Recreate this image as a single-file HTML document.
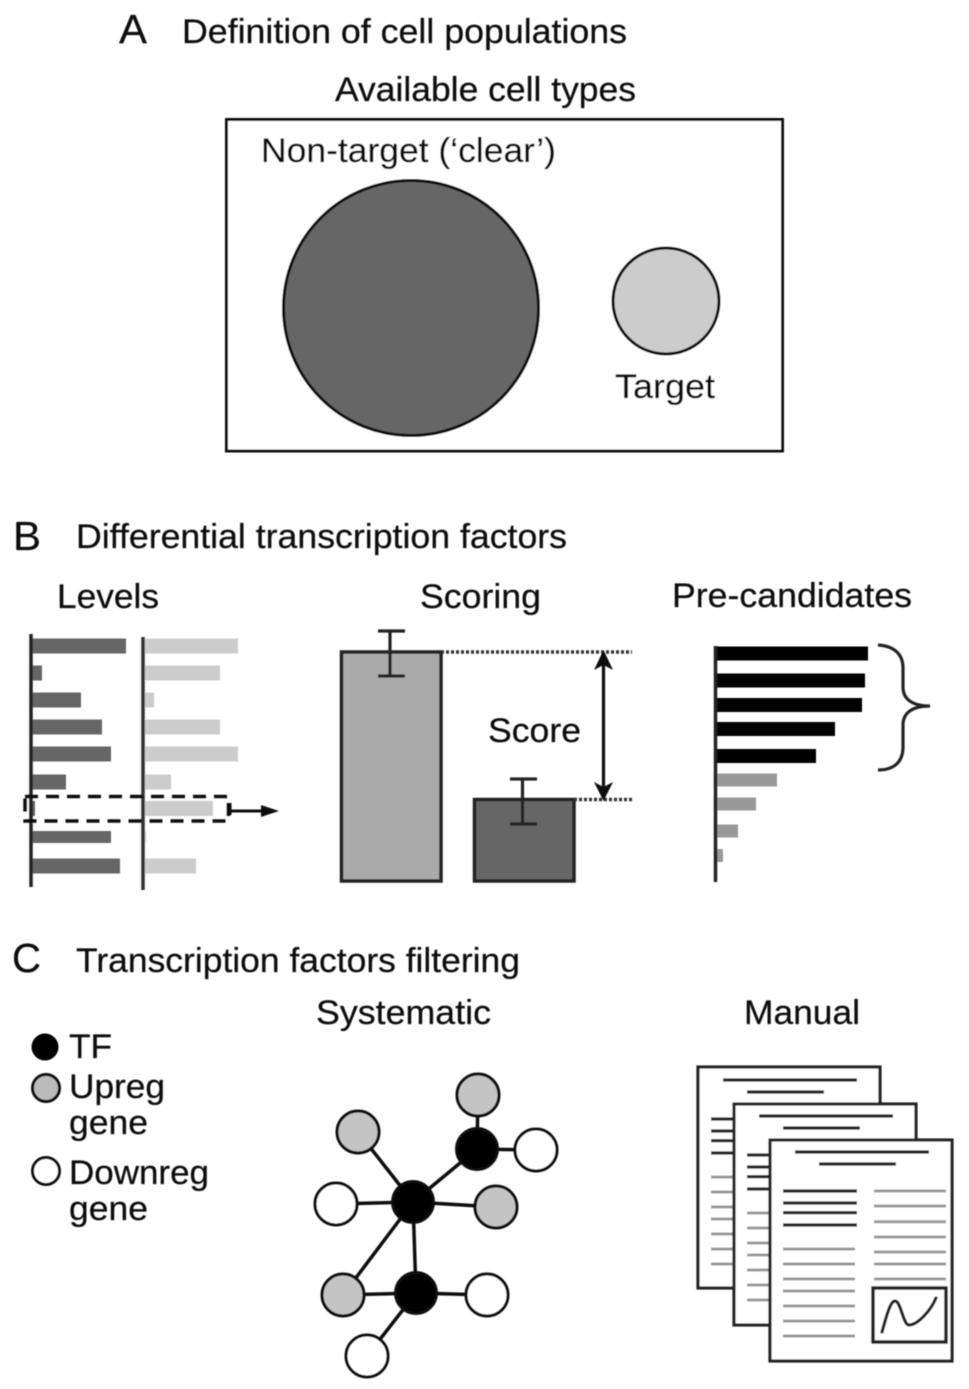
<!DOCTYPE html>
<html><head><meta charset="utf-8"><style>
html,body{margin:0;padding:0;background:#fff}
svg{display:block}
text{font-family:"Liberation Sans",Arial,sans-serif;font-size:34px;fill:#111;stroke:#111;stroke-width:.25px}
</style></head><body>
<svg width="969" height="1389" viewBox="0 0 969 1389" xmlns="http://www.w3.org/2000/svg">
<defs><filter id="b" x="-2%" y="-2%" width="104%" height="104%"><feGaussianBlur stdDeviation="0.5"/></filter></defs>
<rect width="969" height="1389" fill="#fff"/>
<g filter="url(#b)">
<!-- Panel A -->
<text x="119" y="43" style="font-size:41px" textLength="28" lengthAdjust="spacingAndGlyphs">A</text>
<text x="182" y="43" textLength="445" lengthAdjust="spacingAndGlyphs">Definition of cell populations</text>
<text x="335" y="101" textLength="301" lengthAdjust="spacingAndGlyphs">Available cell types</text>
<rect x="226.5" y="119.5" width="556" height="331.5" fill="#fff" stroke="#111" stroke-width="3"/>
<text x="261" y="162" textLength="295" lengthAdjust="spacingAndGlyphs">Non-target (‘clear’)</text>
<circle cx="411" cy="308" r="127.500" fill="#666" stroke="#111" stroke-width="3"/>
<circle cx="666" cy="301" r="53" fill="#ccc" stroke="#111" stroke-width="3"/>
<text x="615" y="398" textLength="100" lengthAdjust="spacingAndGlyphs">Target</text>

<!-- Panel B -->
<text x="13" y="550" style="font-size:41px" textLength="28" lengthAdjust="spacingAndGlyphs">B</text>
<text x="76" y="548" textLength="491" lengthAdjust="spacingAndGlyphs">Differential transcription factors</text>
<text x="57" y="608" textLength="102" lengthAdjust="spacingAndGlyphs">Levels</text>
<text x="420" y="608" textLength="121" lengthAdjust="spacingAndGlyphs">Scoring</text>
<text x="672" y="607" textLength="240" lengthAdjust="spacingAndGlyphs">Pre-candidates</text>

<!-- Levels -->
<g fill="#666">
<rect x="31" y="638.5" width="95" height="15"/>
<rect x="31" y="665.5" width="11" height="15"/>
<rect x="31" y="692.5" width="50" height="15"/>
<rect x="31" y="719.5" width="71" height="15"/>
<rect x="31" y="746.5" width="80" height="15"/>
<rect x="31" y="774.5" width="35" height="15"/>
<rect x="31" y="801" width="4" height="15"/>
<rect x="31" y="831" width="80" height="12"/>
<rect x="31" y="858.5" width="89" height="15"/>
</g>
<g fill="#ccc">
<rect x="143" y="638.5" width="95" height="15"/>
<rect x="143" y="665.5" width="77" height="15"/>
<rect x="143" y="692.5" width="11" height="15"/>
<rect x="143" y="719.5" width="77" height="15"/>
<rect x="143" y="746.5" width="95" height="15"/>
<rect x="143" y="774.5" width="28" height="15"/>
<rect x="143" y="801" width="70" height="15"/>
<rect x="143" y="831" width="3" height="12"/>
<rect x="143" y="858.5" width="53" height="15"/>
</g>
<line x1="31" y1="634" x2="31" y2="887" stroke="#222" stroke-width="3.500"/>
<line x1="143" y1="637" x2="143" y2="890" stroke="#333" stroke-width="3.500"/>
<rect x="25" y="796.5" width="203.500" height="24.5" fill="none" stroke="#111" stroke-width="3.500" stroke-dasharray="13 8"/>
<line x1="230" y1="803" x2="230" y2="815" stroke="#111" stroke-width="3"/>
<line x1="230" y1="811" x2="265" y2="811" stroke="#111" stroke-width="3"/>
<polygon points="261,805 279,811 261,817" fill="#111"/>

<!-- Scoring -->
<rect x="341.5" y="652" width="99.5" height="229" fill="#aaa" stroke="#222" stroke-width="3.500"/>
<rect x="474.5" y="799.5" width="99.5" height="81.5" fill="#666" stroke="#222" stroke-width="3.500"/>
<g stroke="#222" stroke-width="3.200" fill="none">
<path d="M378 631H405M390 631V676M378 676H405"/>
<path d="M510 779H537M522.500 779V824M510 824H537"/>
</g>
<line x1="441" y1="652" x2="632" y2="652" stroke="#333" stroke-width="3.500" stroke-dasharray="3 2"/>
<line x1="574" y1="799.500" x2="632" y2="799.500" stroke="#333" stroke-width="3.500" stroke-dasharray="3 2"/>
<line x1="603.500" y1="656" x2="603.500" y2="796" stroke="#111" stroke-width="3.200"/>
<polygon points="603.500,650 613,670 603.500,665 594,670" fill="#111"/>
<polygon points="603.500,801 613,782 603.500,787 594,782" fill="#111"/>
<text x="488" y="742" textLength="93" lengthAdjust="spacingAndGlyphs">Score</text>

<!-- Pre-candidates -->
<g fill="#000">
<rect x="715" y="646.500" width="153" height="14"/>
<rect x="715" y="673.500" width="150" height="14"/>
<rect x="715" y="698" width="147" height="14"/>
<rect x="715" y="722" width="120" height="14"/>
<rect x="715" y="749" width="101" height="14"/>
</g>
<g fill="#999">
<rect x="715" y="773.500" width="62" height="13"/>
<rect x="715" y="797.500" width="41" height="13"/>
<rect x="715" y="824.500" width="23" height="13"/>
<rect x="715" y="849" width="8" height="13"/>
</g>
<line x1="715.500" y1="646" x2="715.500" y2="882" stroke="#222" stroke-width="3.500"/>
<path d="M878 645C894 646 903 654 903 668V687C903 699 912 706 930 706C912 706 903 713 903 725V747C903 762 894 770 878 770" fill="none" stroke="#222" stroke-width="3.200"/>

<!-- Panel C -->
<text x="12" y="972" style="font-size:41px" textLength="29" lengthAdjust="spacingAndGlyphs">C</text>
<text x="76" y="972" textLength="444" lengthAdjust="spacingAndGlyphs">Transcription factors filtering</text>
<text x="316" y="1024" textLength="175" lengthAdjust="spacingAndGlyphs">Systematic</text>
<text x="744" y="1024" textLength="116" lengthAdjust="spacingAndGlyphs">Manual</text>

<circle cx="45" cy="1047" r="13.500" fill="#000"/>
<circle cx="46" cy="1088" r="13.500" fill="#bbb" stroke="#111" stroke-width="3"/>
<circle cx="46" cy="1171" r="13.500" fill="#fff" stroke="#111" stroke-width="3"/>
<text x="69" y="1058" textLength="43" lengthAdjust="spacingAndGlyphs">TF</text>
<text x="69" y="1098" textLength="96" lengthAdjust="spacingAndGlyphs">Upreg</text>
<text x="69" y="1134" textLength="79" lengthAdjust="spacingAndGlyphs">gene</text>
<text x="69" y="1184" textLength="140" lengthAdjust="spacingAndGlyphs">Downreg</text>
<text x="69" y="1220" textLength="79" lengthAdjust="spacingAndGlyphs">gene</text>

<!-- Network -->
<g stroke="#111" stroke-width="3.500">
<path d="M413 1202L358 1132M413 1202L336 1204M413 1202L496 1207M413 1202L477 1149M413 1202L416 1293M413 1202L343 1295M416 1293L487 1295M416 1293L343 1295M416 1293L367 1356M477 1149L478 1095M477 1149L536 1150"/>
</g>
<g stroke="#111" stroke-width="3">
<circle cx="478" cy="1095" r="21" fill="#c4c4c4"/>
<circle cx="358" cy="1132" r="21" fill="#c4c4c4"/>
<circle cx="496" cy="1207" r="21" fill="#c4c4c4"/>
<circle cx="343" cy="1295" r="21" fill="#c4c4c4"/>
<circle cx="536" cy="1150" r="21" fill="#fff"/>
<circle cx="336" cy="1204" r="21" fill="#fff"/>
<circle cx="487" cy="1295" r="21" fill="#fff"/>
<circle cx="367" cy="1356" r="21" fill="#fff"/>
<circle cx="477" cy="1149" r="20.500" fill="#000"/>
<circle cx="413" cy="1202" r="20.500" fill="#000"/>
<circle cx="416" cy="1293" r="20.500" fill="#000"/>
</g>

<!-- Documents -->
<g>
<rect x="698" y="1067" width="182" height="221" fill="#fff" stroke="#222" stroke-width="3.200"/>
<g stroke="#222" stroke-width="3.200">
<path d="M723 1080H857M747 1092H824M711 1119H785M711 1131H785M711 1140.700H785M711 1153H785"/>
</g>
<g stroke="#999" stroke-width="3">
<path d="M711 1177H783M711 1192H783M711 1207H783M711 1219H783M711 1234H783M711 1249H783M711 1264H783"/>
</g>
</g>
<g>
<rect x="734" y="1104" width="182" height="221" fill="#fff" stroke="#222" stroke-width="3.200"/>
<g stroke="#222" stroke-width="3.200">
<path d="M759 1116H893M783 1128H860M747 1155H821M747 1167H821M747 1176.700H821M747 1189H821"/>
</g>
<g stroke="#999" stroke-width="3">
<path d="M747 1213H819M747 1228H819M747 1243H819M747 1255H819M747 1270H819M747 1285H819M747 1300H819"/>
</g>
</g>
<g>
<rect x="770" y="1140" width="182" height="221" fill="#fff" stroke="#222" stroke-width="3.200"/>
<g stroke="#222" stroke-width="3.200">
<path d="M795 1152H929M819 1164H896M783 1191H857M783 1203H857M783 1212.700H857M783 1225H857"/>
</g>
<g stroke="#999" stroke-width="3">
<path d="M783 1249H855M783 1264H855M783 1279H855M783 1291H855M783 1306H855M783 1321H855M783 1336H855"/>
<path d="M874 1191H946M874 1206H946M874 1221.700H946M874 1237H946M874 1252H946M874 1264H946M874 1279H946"/>
</g>
<rect x="873" y="1288" width="73" height="54" fill="#fff" stroke="#222" stroke-width="3.500"/>
<path d="M882 1332C886 1318 890 1301 895 1301C901 1301 903 1325 909 1325C917 1325 930 1312 936 1298" fill="none" stroke="#222" stroke-width="3.200" stroke-linecap="round"/>
</g>
</g>
</svg>
</body></html>
